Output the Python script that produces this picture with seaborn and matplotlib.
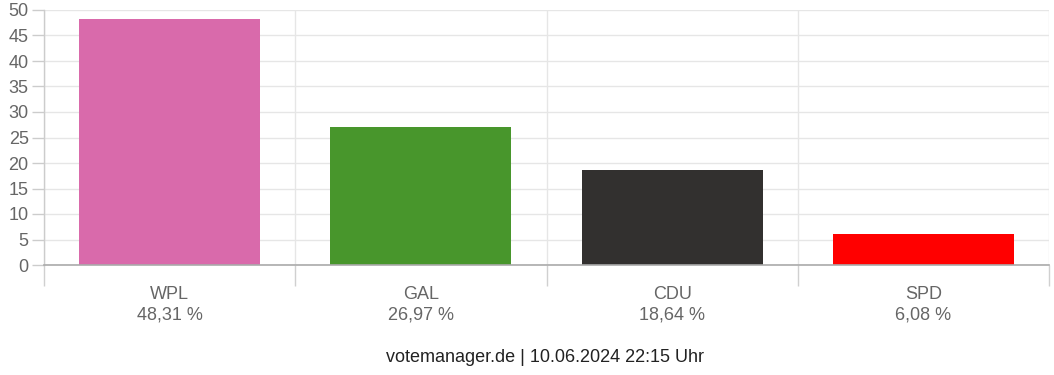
import matplotlib
matplotlib.use("Agg")
import matplotlib.pyplot as plt
import seaborn as sns
import pandas as pd
import numpy as np

parties = ["WPL", "GAL", "CDU", "SPD"]
values = [48.31, 26.97, 18.64, 6.08]
pct_labels = ["48,31 %", "26,97 %", "18,64 %", "6,08 %"]
colors = ["#d96aab", "#48962c", "#32302f", "#ff0000"]
yticks = [0, 5, 10, 15, 20, 25, 30, 35, 40, 45, 50]
footer = "votemanager.de | 10.06.2024 22:15 Uhr"

sns.set_theme(style="white")
plt.rcParams['font.family'] = ['Liberation Sans', 'DejaVu Sans']

df = pd.DataFrame({"party": parties, "value": values})

fig = plt.figure(figsize=(10.54, 3.75), dpi=100)
ax = fig.add_axes([44/1054, 110/375, 1005/1054, 255/375])

sns.barplot(data=df, x="party", y="value", hue="party", palette=colors,
            width=0.72, saturation=1, legend=False, ax=ax, edgecolor="none")

ax.set_xlim(-0.5, 3.5)
ax.set_ylim(0, 50)
ax.set_yticks(yticks)
ax.set_yticklabels([str(t) for t in yticks])
ax.set_xticks(range(len(parties)))
ax.set_xticklabels([f"{p}\n{l}" for p, l in zip(parties, pct_labels)],
                   linespacing=1.3)
ax.set_xticks(np.arange(-0.5, len(parties), 1.0), minor=True)
ax.set_xlabel("")
ax.set_ylabel("")

ax.tick_params(axis="x", which="major", length=0, pad=15, labelsize=13, labelcolor="#666666")
ax.tick_params(axis="x", which="minor", length=15, width=1, color="#d0d0d0", bottom=True)
ax.tick_params(axis="y", which="major", length=9, width=1, color="#cccccc", pad=2,
               labelsize=13, labelcolor="#666666", left=True)

ax.grid(axis="y", which="major", color="#e6e6e6", linewidth=1)
ax.grid(axis="x", which="minor", color="#e6e6e6", linewidth=1)
ax.grid(axis="x", which="major", visible=False)
ax.set_axisbelow(True)

for s in ["top", "right"]:
    ax.spines[s].set_visible(False)
ax.spines["left"].set_color("#cccccc")
ax.spines["bottom"].set_color("#aaaaaa")
ax.spines["left"].set_linewidth(1)
ax.spines["bottom"].set_linewidth(1.2)

fig.text(545/1054, 1 - 357/375, footer, ha="center", va="center", fontsize=13, color="#222222")

fig.savefig("out.png", dpi=100, facecolor="white")
